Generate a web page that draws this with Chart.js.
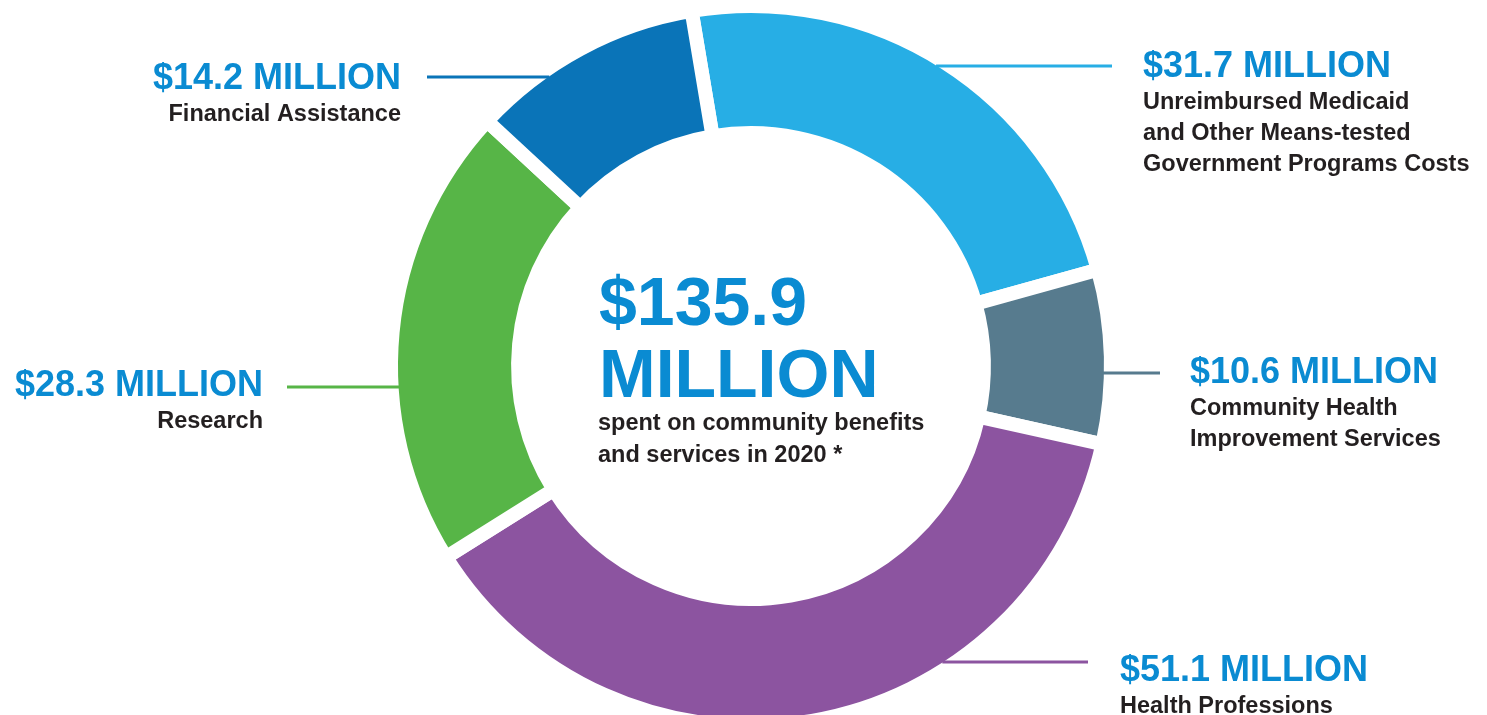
<!DOCTYPE html>
<html>
<head>
<meta charset="utf-8">
<title>Community Benefits 2020</title>
<script src="https://cdn.jsdelivr.net/npm/chart.js"></script>
<style>
    body { margin: 0; background: #fff; }
    .chart-box { position: relative; width: 1487px; height: 715px; }
</style>
</head>
<body>
<div class="chart-box"><canvas id="benefitsChart"></canvas></div>
<script>
// Data, clockwise from the top
const categories = [
    ['Unreimbursed Medicaid', 'and Other Means-tested', 'Government Programs Costs'],
    ['Community Health', 'Improvement Services'],
    ['Health Professions'],
    ['Research'],
    ['Financial Assistance']
];
const amounts = [31.7, 10.6, 51.1, 28.3, 14.2];
const amountLabels = ['$31.7 MILLION', '$10.6 MILLION', '$51.1 MILLION', '$28.3 MILLION', '$14.2 MILLION'];
const segmentColors = ['#27aee5', '#577b8e', '#8c54a0', '#57b547', '#0a74b8'];
const totalLabel = ['$135.9', 'MILLION'];
const totalNote = ['spent on community benefits', 'and services in 2020 *'];

// Where each callout sits: text anchor x, baseline of amount, leader line y and its outer end
const callouts = [
    { side: 'right', x: 1143, y: 77,  lineY: 66,  lineEnd: 1112 },
    { side: 'right', x: 1190, y: 383, lineY: 373, lineEnd: 1160 },
    { side: 'right', x: 1120, y: 681, lineY: 662, lineEnd: 1088 },
    { side: 'left',  x: 263,  y: 396, lineY: 387, lineEnd: 287 },
    { side: 'left',  x: 401,  y: 89,  lineY: 77,  lineEnd: 427 }
];

const BLUE = '#0a8bd2';
const DARK = '#231f20';
const FONT = '"Liberation Sans", Arial, sans-serif';
const GAP = 14;

const calloutPlugin = {
    id: 'callouts',
    afterDatasetsDraw(chart) {
        const ctx = chart.ctx;
        const arcs = chart.getDatasetMeta(0).data;
        ctx.save();
        arcs.forEach((arc, i) => {
            const c = callouts[i];
            const r = arc.outerRadius - GAP / 2;
            const dy = c.lineY - arc.y;
            const dx = Math.sqrt(Math.max(r * r - dy * dy, 0));
            const edgeX = c.side === 'right' ? arc.x + dx - 1 : arc.x - dx + 1;

            // leader line
            ctx.strokeStyle = segmentColors[i];
            ctx.lineWidth = 3;
            ctx.beginPath();
            ctx.moveTo(edgeX, c.lineY);
            ctx.lineTo(c.lineEnd, c.lineY);
            ctx.stroke();

            // text
            ctx.textAlign = c.side === 'right' ? 'left' : 'right';
            ctx.textBaseline = 'alphabetic';
            ctx.fillStyle = BLUE;
            ctx.font = 'bold 36px ' + FONT;
            ctx.fillText(amountLabels[i], c.x, c.y);
            ctx.fillStyle = DARK;
            ctx.font = 'bold 23.5px ' + FONT;
            categories[i].forEach((line, j) => {
                ctx.fillText(line, c.x, c.y + 32 + j * 31);
            });
        });

        // centre text
        const left = 599;
        ctx.textAlign = 'left';
        ctx.fillStyle = BLUE;
        ctx.font = 'bold 68px ' + FONT;
        ctx.fillText(totalLabel[0], left, 325);
        ctx.fillText(totalLabel[1], left, 397);
        ctx.fillStyle = DARK;
        ctx.font = 'bold 23.5px ' + FONT;
        ctx.fillText(totalNote[0], left - 1, 430);
        ctx.fillText(totalNote[1], left - 1, 462);
        ctx.restore();
    }
};

const ctx = document.getElementById('benefitsChart').getContext('2d');
const chart = new Chart(ctx, {
    type: 'doughnut',
    data: {
        labels: categories.map(c => c.join(' ')),
        datasets: [{
            data: amounts,
            backgroundColor: segmentColors,
            borderColor: '#ffffff',
            borderWidth: GAP,
            hoverOffset: 0
        }]
    },
    options: {
        responsive: true,
        maintainAspectRatio: false,
        animation: false,
        rotation: -9.5,
        radius: 360,
        cutout: '64.7%',
        layout: {
            padding: { left: 15, top: 17 }
        },
        events: [],
        plugins: {
            legend: { display: false },
            tooltip: { enabled: false }
        }
    },
    plugins: [calloutPlugin]
});
</script>
</body>
</html>
